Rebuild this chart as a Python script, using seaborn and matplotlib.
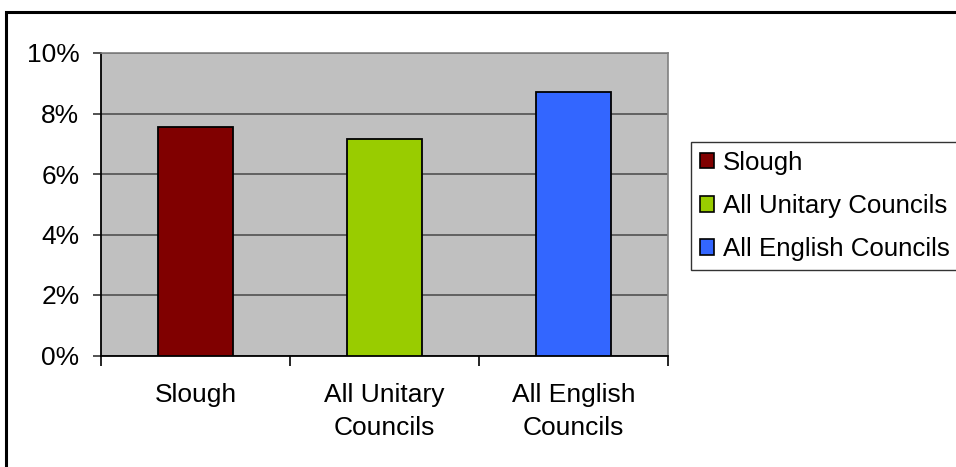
import matplotlib
matplotlib.use("Agg")
import matplotlib.pyplot as plt
import matplotlib.ticker as mticker
from matplotlib.patches import Patch, Rectangle
import seaborn as sns

# Data
categories = ["Slough", "All Unitary Councils", "All English Councils"]
tick_labels = ["Slough", "All Unitary\nCouncils", "All English\nCouncils"]
values = [0.0755, 0.0715, 0.087]
colors = ["#800000", "#99CC00", "#3366FF"]

sns.set_style("ticks")
plt.rcParams["font.family"] = ["Liberation Sans", "DejaVu Sans"]
plt.rcParams["text.color"] = "black"
plt.rcParams["xtick.labelcolor"] = "black"
plt.rcParams["ytick.labelcolor"] = "black"
FS = 19

fig = plt.figure(figsize=(9.56, 4.67), dpi=100)
fig.patch.set_facecolor("white")
W, H = 956, 467
ax = fig.add_axes([101 / W, 1 - 355.5 / H, (668 - 101) / W, (355.5 - 53) / H])

sns.barplot(x=categories, y=values, hue=categories, palette=colors,
            width=0.4, edgecolor="black", linewidth=1.3, saturation=1,
            legend=False, ax=ax, zorder=3)

ax.set_facecolor("#C0C0C0")
ax.set_xlim(-0.5, 2.5)
ax.set_ylim(0, 0.10)
ax.set_yticks([0, 0.02, 0.04, 0.06, 0.08, 0.10])
ax.yaxis.set_major_formatter(mticker.PercentFormatter(1.0, decimals=0))
ax.yaxis.grid(True, color="#5a5a5a", linewidth=1.3, zorder=1)
ax.set_axisbelow(True)
ax.set_xlabel("")
ax.set_ylabel("")

# category labels centred, tick marks at category boundaries
ax.set_xticks([0, 1, 2])
ax.set_xticklabels(tick_labels, fontsize=FS, linespacing=1.45, color="black")
ax.set_xticks([-0.5, 0.5, 1.5, 2.5], minor=True)
ax.tick_params(axis="x", which="major", length=0, pad=20)
ax.tick_params(axis="x", which="minor", length=7, width=1.2, color="black",
               direction="out")
ax.tick_params(axis="y", length=6, width=1.2, color="#333333", pad=9.5,
               labelsize=FS, labelcolor="black", direction="out")

for side in ["top", "right"]:
    ax.spines[side].set_color("#808080")
    ax.spines[side].set_linewidth(1.2)
for side in ["left", "bottom"]:
    ax.spines[side].set_color("black")
    ax.spines[side].set_linewidth(1.3)

# Legend
handles = [Patch(facecolor=c, edgecolor="black", linewidth=1.2) for c in colors]
leg = fig.legend(handles, categories, loc="upper left",
                 bbox_to_anchor=(690.5 / W, 1 - 141.5 / H),
                 bbox_transform=fig.transFigure,
                 fontsize=18.6, frameon=True, fancybox=False,
                 handlelength=0.55, handleheight=0.55, handletextpad=0.33,
                 labelspacing=0.74, borderpad=0.36, borderaxespad=0,
                 labelcolor="black")
leg.get_frame().set_edgecolor("black")
leg.get_frame().set_linewidth(1.0)

# Outer chart frame
fig.patches.append(Rectangle((6 / W, -0.1), 1.2, (1 - 12 / H) + 0.1,
                             transform=fig.transFigure, fill=False,
                             edgecolor="black", linewidth=2.2))

fig.savefig("out.png", dpi=100)
